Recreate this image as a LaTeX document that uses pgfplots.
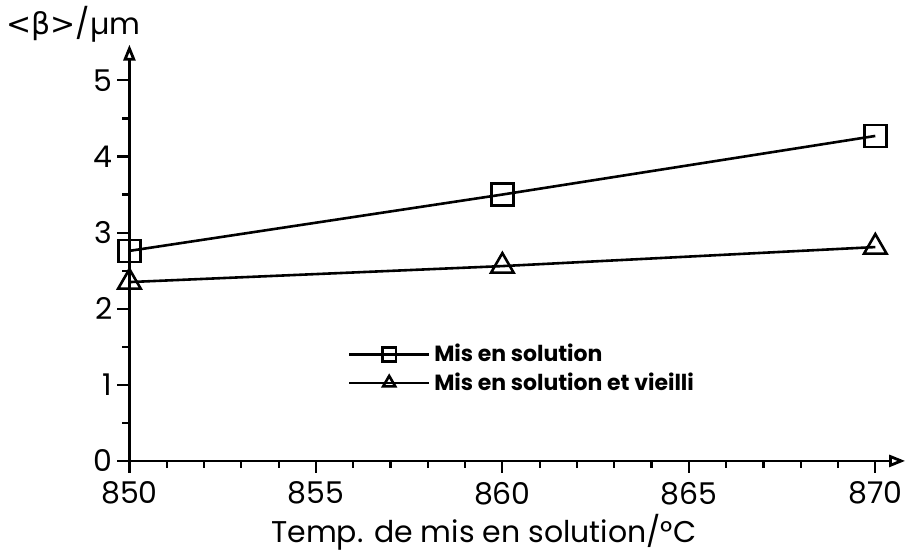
\documentclass[border=0pt]{standalone}
\usepackage{pgfplots}
\pgfplotsset{compat=1.18}
\usepackage{fontspec}
\setmainfont{Poppins}
\newfontfamily\greekfont{DejaVu Sans}
\usetikzlibrary{arrows.meta}
\begin{document}
\begin{tikzpicture}
\begin{axis}[
  scale only axis,
  width=388.5pt, height=208.5pt,
  xmin=850, xmax=870.8, ymin=0, ymax=5.47,
  axis lines=left,
  axis line style={line width=1.4pt, -{Triangle[open,length=8pt,width=6pt]}},
  xtick={850,855,860,865,870},
  ytick={0,1,2,3,4,5},
  minor x tick num=4,
  minor y tick num=1,
  tick align=outside,
  major tick length=6pt,
  minor tick length=3.5pt,
  tick style={line width=1.1pt, black},
  every tick label/.append style={font=\fontsize{15}{16}\selectfont},
  /pgf/number format/assume math mode=true,
  xticklabel style={yshift=-1pt},
  yticklabel style={xshift=1pt},
  x tick label style={/pgf/number format/1000 sep={}},
  xlabel={Temp. de mis en solution/°C},
  every axis x label/.style={at={(axis cs:859.5,0)}, anchor=north, yshift=-23pt, font=\fontsize{15}{16}\selectfont},
  ylabel={{\greekfont <β>}/µm},
  every axis y label/.style={at={(axis description cs:0,1)}, anchor=center, xshift=-28pt, yshift=10pt, font=\fontsize{15}{16}\selectfont},
  legend style={at={(axis cs:855.8,1.62)}, anchor=north west, draw=none, fill=none,
    font=\bfseries\fontsize{11}{13}\selectfont, row sep=0pt, inner sep=1pt},
  legend cell align=left,
  legend image code/.code={\draw[mark repeat=2,mark phase=2,mark size=3.5pt] plot coordinates {(0cm,0cm)(0.7cm,0cm)(1.4cm,0cm)};},
]
\addplot[black, line width=1.3pt, mark=square, mark size=5.5pt, mark options={line width=1.3pt, solid}]
  coordinates {(850,2.76) (860,3.50) (870,4.27)};
\addlegendentry{Mis en solution}
\addplot[black, line width=1.3pt, mark=triangle, mark size=6.5pt, mark options={line width=1.3pt, solid}]
  coordinates {(850,2.35) (860,2.56) (870,2.81)};
\addlegendentry{Mis en solution et vieilli}
\end{axis}
\end{tikzpicture}
\end{document}
